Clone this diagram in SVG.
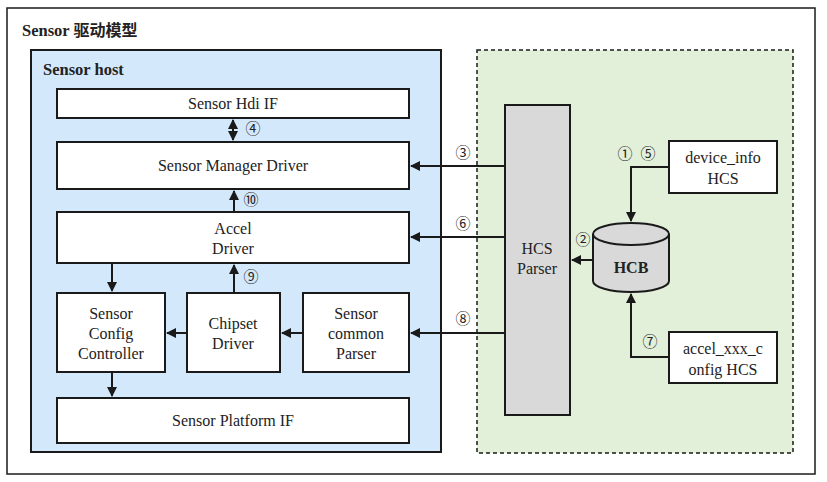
<svg xmlns="http://www.w3.org/2000/svg" width="827" height="482" viewBox="0 0 827 482" font-family="'Liberation Serif', 'DejaVu Serif', serif">
<style>
text{font-family:'Liberation Serif','DejaVu Serif',serif;font-size:16px;fill:#222;text-anchor:middle}
.b{fill:#fff;stroke:#1a1a1a;stroke-width:2}
.t{font-weight:bold;text-anchor:start;font-size:16.5px}
.cjk{font-family:'Noto Sans CJK SC',sans-serif;font-weight:bold;font-size:16px}
.n{font-family:'Noto Sans CJK SC','DejaVu Sans',sans-serif;font-size:15px}
.c{fill:none;stroke:#1a1a1a;stroke-width:2}
</style>
<defs>
<marker id="ah" viewBox="0 0 10 10" refX="9" refY="5" markerWidth="5" markerHeight="5" orient="auto-start-reverse" markerUnits="strokeWidth">
<path d="M0,0 L10,5 L0,10 z" fill="#1a1a1a"/>
</marker>
</defs>
<rect width="827" height="482" fill="#fff"/>
<g id="frame">
<rect x="7" y="8" width="808" height="466" fill="#fff" stroke="#1a1a1a" stroke-width="1.5"/>
<text class="t" x="22" y="36">Sensor <tspan class="cjk">驱动模型</tspan></text>
</g>
<g id="host">
<rect x="31" y="50" width="410" height="402" fill="#d4e8fb" stroke="#1a1a1a" stroke-width="2"/>
<text class="t" x="43" y="75">Sensor host</text>
</g>
<g id="hcs-area">
<rect x="477" y="50" width="316" height="403" fill="#e2efd9" stroke="#1a1a1a" stroke-width="1.5" stroke-dasharray="4,3"/>
</g>
<g id="hdi"><rect class="b" x="57" y="89" width="352" height="29"/><text x="233" y="109">Sensor Hdi IF</text></g>
<g id="manager"><rect class="b" x="57" y="142" width="352" height="47"/><text x="233" y="171">Sensor Manager Driver</text></g>
<g id="accel"><rect class="b" x="57" y="212" width="352" height="51"/><text x="233" y="234">Accel</text><text x="233" y="254">Driver</text></g>
<g id="config"><rect class="b" x="57" y="293" width="108" height="79"/><text x="111" y="319">Sensor</text><text x="111" y="339">Config</text><text x="111" y="359">Controller</text></g>
<g id="chipset"><rect class="b" x="187" y="293" width="93" height="79"/><text x="233" y="329">Chipset</text><text x="233" y="349">Driver</text></g>
<g id="common"><rect class="b" x="303" y="293" width="106" height="79"/><text x="356" y="319">Sensor</text><text x="356" y="339">common</text><text x="356" y="359">Parser</text></g>
<g id="platform"><rect class="b" x="57" y="398" width="352" height="45"/><text x="233" y="426">Sensor Platform IF</text></g>
<g id="parser"><rect x="505" y="105" width="65" height="310" fill="#d9d9d9" stroke="#1a1a1a" stroke-width="2"/><text x="537" y="254">HCS</text><text x="537" y="274">Parser</text></g>
<g id="device-info"><rect class="b" x="669" y="141" width="108" height="52"/><text x="723" y="163">device_info</text><text x="723" y="184">HCS</text></g>
<g id="hcb">
<path d="M593,234 L593,281 A38,11 0 0 0 669,281 L669,234" fill="#d9d9d9" stroke="#1a1a1a" stroke-width="2"/>
<ellipse cx="631" cy="234" rx="38" ry="11" fill="#d9d9d9" stroke="#1a1a1a" stroke-width="2"/>
<text x="631" y="273" style="font-weight:bold">HCB</text>
</g>
<g id="accel-config"><rect class="b" x="669" y="332" width="108" height="51"/><text x="723" y="354">accel_xxx_c</text><text x="723" y="375">onfig HCS</text></g>
<g id="connectors">
<line class="c" x1="233" y1="120" x2="233" y2="140" marker-start="url(#ah)" marker-end="url(#ah)"/>
<line class="c" x1="234" y1="212" x2="234" y2="191" marker-end="url(#ah)"/>
<line class="c" x1="234" y1="293" x2="234" y2="265" marker-end="url(#ah)"/>
<line class="c" x1="112" y1="263" x2="112" y2="291" marker-end="url(#ah)"/>
<line class="c" x1="187" y1="333" x2="167" y2="333" marker-end="url(#ah)"/>
<line class="c" x1="303" y1="333" x2="282" y2="333" marker-end="url(#ah)"/>
<line class="c" x1="112" y1="372" x2="112" y2="396" marker-end="url(#ah)"/>
<line class="c" x1="505" y1="166" x2="411" y2="166" marker-end="url(#ah)"/>
<line class="c" x1="505" y1="237" x2="411" y2="237" marker-end="url(#ah)"/>
<line class="c" x1="505" y1="333" x2="411" y2="333" marker-end="url(#ah)"/>
<line class="c" x1="593" y1="260" x2="572" y2="260" marker-end="url(#ah)"/>
<polyline class="c" points="669,167 631,167 631,221" marker-end="url(#ah)"/>
<polyline class="c" points="669,357 631,357 631,294" marker-end="url(#ah)"/>
<text class="n" x="253" y="134">④</text>
<text class="n" x="251" y="205">⑩</text>
<text class="n" x="251" y="282">⑨</text>
<text class="n" x="463" y="158">③</text>
<text class="n" x="463" y="229">⑥</text>
<text class="n" x="463" y="324">⑧</text>
<text class="n" x="583" y="245">②</text>
<text class="n" x="625" y="159">①</text>
<text class="n" x="648" y="159">⑤</text>
<text class="n" x="650" y="347">⑦</text>
</g>
</svg>
